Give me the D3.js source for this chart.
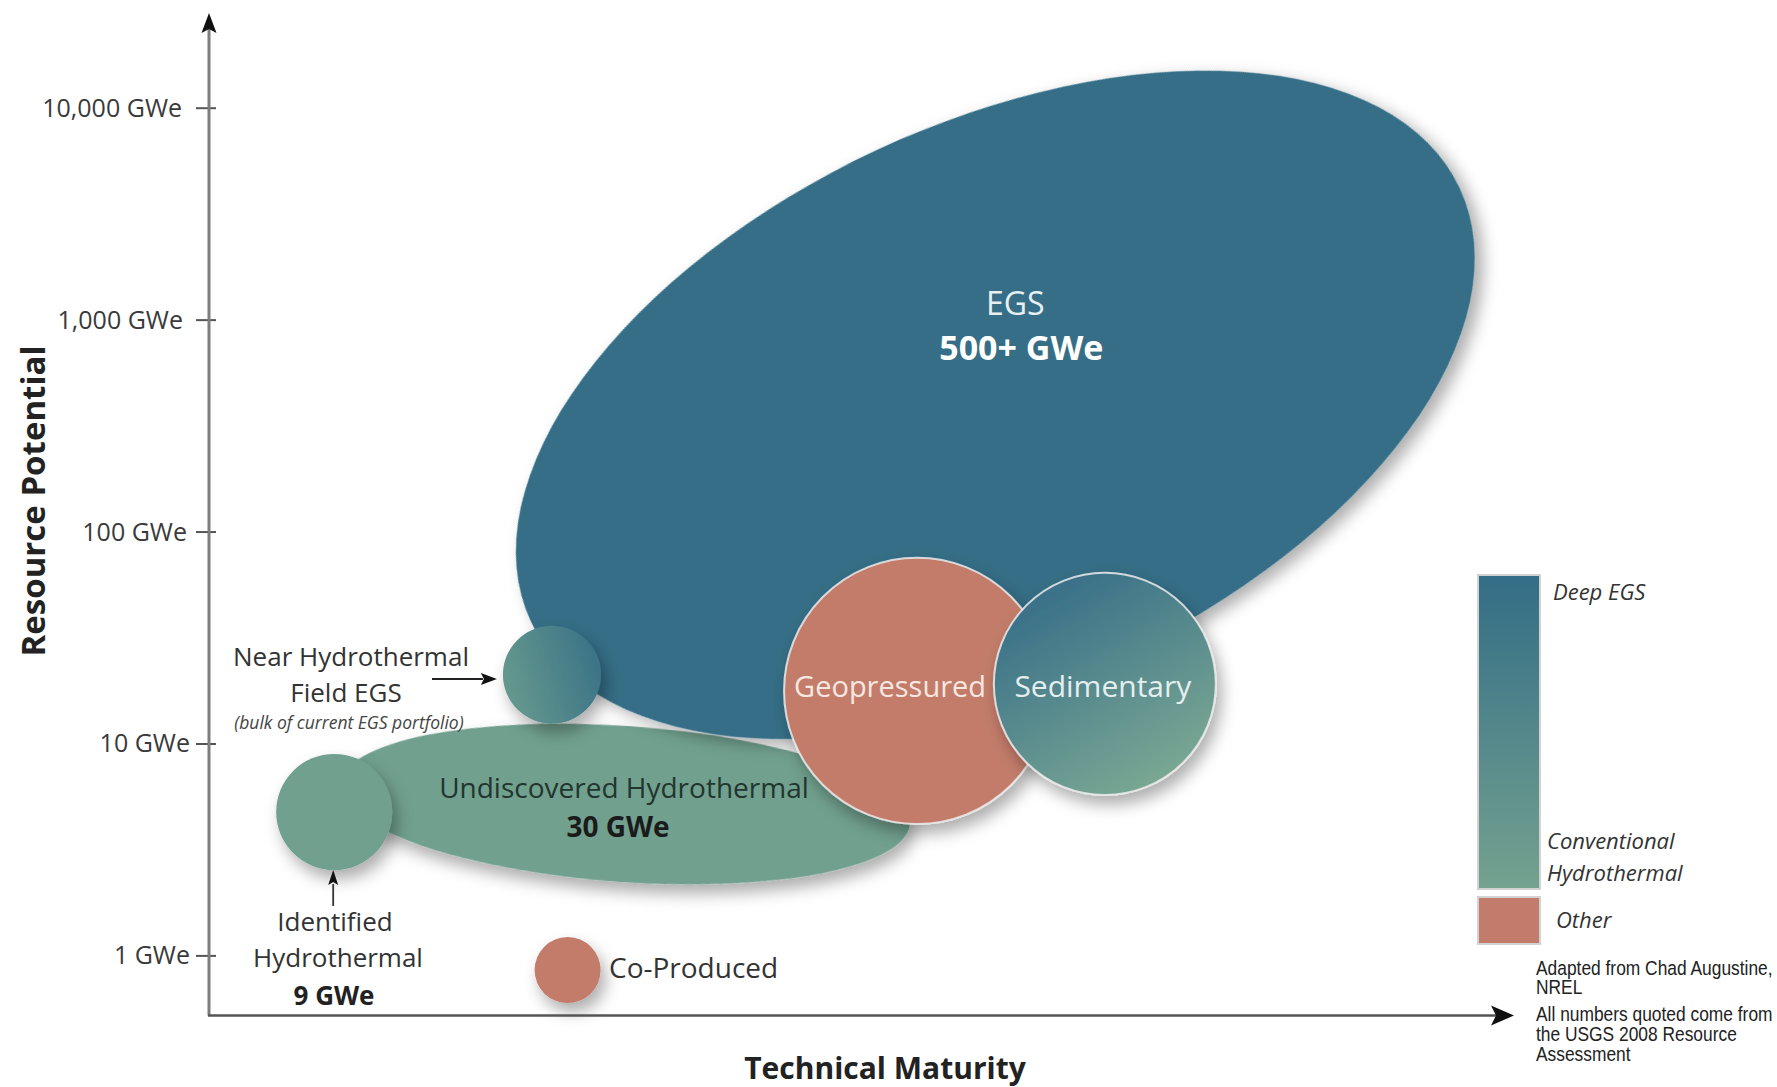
<!DOCTYPE html>
<html>
<head>
<meta charset="utf-8">
<script src="https://cdn.jsdelivr.net/npm/d3@7"></script>
<style>
  html, body { margin: 0; padding: 0; background: #fff; }
  svg { display: block; }
</style>
</head>
<body>
<svg id="chart" width="1777" height="1087"></svg>
<script>
// ---------------- DATA ----------------
const resourceNames = ["Undiscovered Hydrothermal", "Identified Hydrothermal", "EGS",
  "Near Hydrothermal Field EGS", "Geopressured", "Sedimentary", "Co-Produced"];
const resourceType = ["conventional", "conventional", "deep", "near", "other", "sedimentary", "other"];
// centre of each resource on the (unitless) technical-maturity axis, 0-100
const maturity = [31.9, 9.6, 60.3, 26.3, 54.3, 68.7, 27.5];
// centre of each resource on the resource-potential axis (GWe, log)
const potentialGWe = [5.18, 4.75, 396, 21.1, 17.7, 19.1, 0.853];
// half extent along maturity axis (maturity units)
const maturitySpread = [21.9, 4.45, 39.3, 3.76, 10.2, 8.51, 2.53];
// half extent along potential axis (decades of GWe)
const potentialSpread = [0.368, 0.274, 1.326, 0.231, 0.628, 0.524, 0.156];
const tiltDeg = [4, 0, -25, 0, 0, 0, 0];

const tickValues = [1, 10, 100, 1000, 10000];
const tickLabels = ["1 GWe", "10 GWe", "100 GWe", "1,000 GWe", "10,000 GWe"];
const legendLabels = ["Deep EGS", "Conventional", "Hydrothermal", "Other"];
const footnoteLines = ["Adapted from Chad Augustine,", "NREL", "All numbers quoted come from", "the USGS 2008 Resource", "Assessment"];

// ---------------- SETUP ----------------
const svg = d3.select("#chart");
const W = 1777, H = 1087;
const x = d3.scaleLinear().domain([0, 100]).range([209, 1513]);
const y = d3.scaleLog().domain([1, 10000]).range([955.4, 107.7]);
const axisY0 = 1015.5;

const FONT = "'Open Sans', 'Noto Sans', sans-serif";
const SANS = "'Liberation Sans', Arial, sans-serif";

const colors = {
  deep: "#356e86",
  conventional: "#71a08e",
  other: "#c37b6b",
};

const defs = svg.append("defs");
const f = defs.append("filter").attr("id", "shadow")
  .attr("x", "-30%").attr("y", "-30%").attr("width", "170%").attr("height", "180%");
f.append("feDropShadow").attr("dx", 5).attr("dy", 9).attr("stdDeviation", 8)
  .attr("flood-color", "#000").attr("flood-opacity", 0.32);

const g1 = defs.append("linearGradient").attr("id", "nearGrad")
  .attr("x1", "0").attr("y1", "0.6").attr("x2", "1").attr("y2", "0.3");
g1.append("stop").attr("offset", "0%").attr("stop-color", "#66998d");
g1.append("stop").attr("offset", "100%").attr("stop-color", "#3a7287");

const g2 = defs.append("linearGradient").attr("id", "sedGrad")
  .attr("x1", "0.25").attr("y1", "0.1").attr("x2", "0.75").attr("y2", "0.95");
g2.append("stop").attr("offset", "0%").attr("stop-color", "#3b7189");
g2.append("stop").attr("offset", "100%").attr("stop-color", "#7aa893");

const g3 = defs.append("linearGradient").attr("id", "legendGrad")
  .attr("x1", "0").attr("y1", "0").attr("x2", "0").attr("y2", "1");
g3.append("stop").attr("offset", "0%").attr("stop-color", "#336d86");
g3.append("stop").attr("offset", "100%").attr("stop-color", "#74a28f");

svg.append("rect").attr("width", W).attr("height", H).attr("fill", "#fff");

// ---------------- SHAPES ----------------
function fillFor(t) {
  if (t === "near") return "url(#nearGrad)";
  if (t === "sedimentary") return "url(#sedGrad)";
  return colors[t];
}
const shapes = resourceNames.map((name, i) => {
  const cx = x(maturity[i]);
  const cy = y(potentialGWe[i]);
  const rx = x(maturity[i] + maturitySpread[i]) - cx;
  const ry = cy - y(potentialGWe[i] * Math.pow(10, potentialSpread[i]));
  return { name, type: resourceType[i], cx, cy, rx, ry, tilt: tiltDeg[i] };
});

svg.append("g").selectAll("ellipse").data(shapes).join("ellipse")
  .attr("cx", d => d.cx).attr("cy", d => d.cy)
  .attr("rx", d => d.rx).attr("ry", d => d.ry)
  .attr("transform", d => `rotate(${d.tilt},${d.cx},${d.cy})`)
  .attr("fill", d => fillFor(d.type))
  .attr("stroke", d => (d.name === "Geopressured" || d.name === "Sedimentary") ? "rgba(235,235,235,0.85)" : "none")
  .attr("stroke-width", 2)
  .attr("filter", "url(#shadow)");

// ---------------- AXES ----------------
const axisG = svg.append("g").attr("transform", `translate(${x(0)},0)`);
axisG.call(d3.axisLeft(y).tickValues(tickValues).tickSize(13).tickPadding(15)
  .tickFormat((d, i) => tickLabels[i]));
axisG.select(".domain").remove();
axisG.selectAll(".tick line").attr("x1", 7).attr("x2", -13).attr("stroke", "#555").attr("stroke-width", 2);
const labelNudge = [9, 9, 6, 2, 1];
axisG.selectAll(".tick text")
  .attr("x", (d, i) => -28 + labelNudge[i])
  .attr("dy", "0.34em")
  .style("font-family", FONT).style("font-size", "25px").attr("fill", "#3a3a3a");

// y axis line + arrow
svg.append("line").attr("x1", x(0)).attr("x2", x(0)).attr("y1", axisY0).attr("y2", 26)
  .attr("stroke", "#7d7d7d").attr("stroke-width", 3);
svg.append("path")
  .attr("d", `M${x(0)},13 L${x(0) + 7.5},33 L${x(0)},29 L${x(0) - 7.5},33 Z`)
  .attr("fill", "#111");
// x axis line + arrow
svg.append("line").attr("x1", x(0) - 1).attr("x2", 1500).attr("y1", axisY0).attr("y2", axisY0)
  .attr("stroke", "#555").attr("stroke-width", 2.5);
svg.append("path")
  .attr("d", `M1514,${axisY0} L1491,${axisY0 - 10} L1496,${axisY0} L1491,${axisY0 + 10} Z`)
  .attr("fill", "#111");

// axis titles
svg.append("text").attr("transform", "translate(33,501) rotate(-90)")
  .attr("text-anchor", "middle").attr("dy", "0.35em")
  .attr("textLength", 311).attr("lengthAdjust", "spacingAndGlyphs")
  .style("font-family", FONT).style("font-weight", 700).style("font-size", "33px")
  .attr("fill", "#222").text("Resource Potential");
svg.append("text").attr("x", 885).attr("y", 1079).attr("text-anchor", "middle")
  .style("font-family", FONT).style("font-weight", 700).style("font-size", "30px")
  .attr("fill", "#222").text("Technical Maturity");

// ---------------- LABELS ----------------
function label(t, px, py, size, opts = {}, parent = svg) {
  return parent.append("text").attr("x", px).attr("y", py)
    .attr("text-anchor", opts.anchor || "middle")
    .style("font-family", opts.family || FONT)
    .style("font-size", size + "px")
    .style("font-weight", opts.bold ? 700 : 400)
    .style("font-style", opts.italic ? "italic" : "normal")
    .attr("fill", opts.fill || "#333")
    .text(t);
}
const egs = shapes[2], und = shapes[0], geo = shapes[4], sed = shapes[5];
label("EGS", egs.cx + 20, egs.cy - 90, 32, { fill: "#e8eff1" });
label("500+ GWe", egs.cx + 26, egs.cy - 45, 34, { bold: true, fill: "#ffffff" });
label("Undiscovered Hydrothermal", und.cx - 1, und.cy - 6, 28, { fill: "#22352f" });
label("30 GWe", und.cx - 7, und.cy + 33, 28, { bold: true, fill: "#1b1b1b" });
label("Geopressured", geo.cx - 27, geo.cy + 6, 29, { fill: "#f7e7e1" });
label("Sedimentary", sed.cx - 2, sed.cy + 13, 30, { fill: "#e5efef" });

label("Near Hydrothermal", 351, 666, 26);
label("Field EGS", 346, 702, 26);
label("(bulk of current EGS portfolio)", 349, 729, 17.5, { italic: true, fill: "#444" });
label("Identified", 335, 931, 26);
label("Hydrothermal", 338, 967, 26);
label("9 GWe", 334, 1005, 26, { bold: true, fill: "#222" });
label("Co-Produced", 609, 978, 28, { anchor: "start" });

// pointer arrows
const near = shapes[3], ident = shapes[1];
svg.append("line").attr("x1", 432).attr("x2", near.cx - near.rx - 20).attr("y1", 679).attr("y2", 679)
  .attr("stroke", "#222").attr("stroke-width", 2);
svg.append("path").attr("d", `M${near.cx - near.rx - 6},679 l-16,-6 l3,6 l-3,6 Z`).attr("fill", "#111");
svg.append("line").attr("x1", ident.cx - 1).attr("x2", ident.cx - 1).attr("y1", 906).attr("y2", ident.cy + ident.ry + 14)
  .attr("stroke", "#333").attr("stroke-width", 1.8);
svg.append("path").attr("d", `M${ident.cx - 1},${ident.cy + ident.ry} l-5,15 l5,-3 l5,3 Z`).attr("fill", "#111");

// ---------------- LEGEND ----------------
svg.append("rect").attr("x", 1478).attr("y", 575).attr("width", 62).attr("height", 314)
  .attr("fill", "url(#legendGrad)").attr("stroke", "#d2d2d2").attr("stroke-width", 2);
svg.append("rect").attr("x", 1478).attr("y", 897).attr("width", 62).attr("height", 47)
  .attr("fill", colors.other).attr("stroke", "#d2d2d2").attr("stroke-width", 2);
const legPos = [[1553, 600], [1547, 849], [1547, 881], [1556, 928]];
legendLabels.forEach((t, i) => label(t, legPos[i][0], legPos[i][1], 22, { italic: true, anchor: "start", fill: "#333" }));

// footnote (condensed sans)
const foot = svg.append("g").attr("transform", "translate(1536,0) scale(0.9,1)");
const footY = [975, 994, 1021, 1041, 1061];
footnoteLines.forEach((t, i) => label(t, 0, footY[i], 19.3, { anchor: "start", family: SANS, fill: "#222" }, foot));
</script>
</body>
</html>
